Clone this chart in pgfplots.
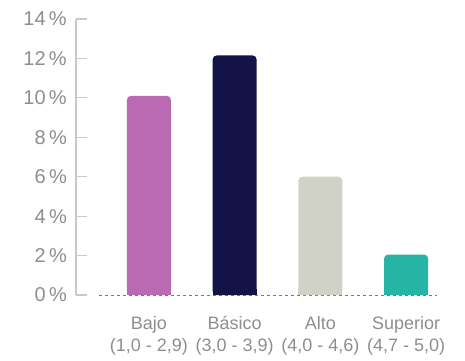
\documentclass[border=0pt]{standalone}
\usepackage{fontspec}
\setmainfont{Liberation Sans}
\usepackage{pgfplots}
\pgfplotsset{compat=1.18}
\definecolor{cBajo}{HTML}{B96AB2}
\definecolor{cBasico}{HTML}{131347}
\definecolor{cAlto}{HTML}{D0D2C8}
\definecolor{cSup}{HTML}{26B5A5}
\definecolor{axgray}{HTML}{C8C8C8}
\definecolor{txtgray}{HTML}{8E8E8E}
\definecolor{dashgray}{HTML}{7A7A7A}
\begin{document}
\begin{tikzpicture}
\begin{axis}[
  name=ax, scale only axis, width=361bp, height=276bp,
  xmin=-0.85, xmax=3.36, ymin=0, ymax=14,
  axis x line*=bottom, x axis line style={draw=none}, xtick style={draw=none},
  axis y line*=left, y axis line style={draw=axgray, line width=1.2bp},
  ytick={0,2,...,14}, ytick style={draw=axgray, line width=1.2bp},
  major tick length=11bp, tick align=inside,
  /pgf/number format/assume math mode=true,
  yticklabel={\pgfmathprintnumber{\tick}\,\%},
  yticklabel style={font=\fontsize{20bp}{24bp}\selectfont, text=txtgray, inner sep=0pt, xshift=-9bp},
  xtick={0,1,2,3},
  xticklabels={{\strut Bajo\\\strut(1,0 - 2,9)},{\strut Básico\\\strut(3,0 - 3,9)},{\strut Alto\\\strut(4,0 - 4,6)},{\strut Superior\\\strut(4,7 - 5,0)}},
  xticklabel style={font=\fontsize{18bp}{22bp}\selectfont, text=txtgray, align=center, inner sep=0pt, yshift=-19bp},
  clip=false,
]
\addplot[sharp plot, draw=dashgray, dash pattern=on 3bp off 3bp, line width=0.8bp] coordinates {(-0.58,0) (3.36,0)};
\addplot[ybar, bar width=44bp, bar shift=0pt, fill=cBajo, draw=none, rounded corners=4bp] coordinates {(0,10.1)};
\addplot[ybar, bar width=44bp, bar shift=0pt, fill=cBasico, draw=none, rounded corners=4bp] coordinates {(1,12.15)};
\addplot[ybar, bar width=44bp, bar shift=0pt, fill=cAlto, draw=none, rounded corners=4bp] coordinates {(2,6.0)};
\addplot[ybar, bar width=44bp, bar shift=0pt, fill=cSup, draw=none, rounded corners=4bp] coordinates {(3,2.05)};
% square bottom corners
\addplot[ybar, bar width=44bp, bar shift=0pt, fill=cBajo, draw=none] coordinates {(0,0.3)};
\addplot[ybar, bar width=44bp, bar shift=0pt, fill=cBasico, draw=none] coordinates {(1,0.3)};
\addplot[ybar, bar width=44bp, bar shift=0pt, fill=cAlto, draw=none] coordinates {(2,0.3)};
\addplot[ybar, bar width=44bp, bar shift=0pt, fill=cSup, draw=none] coordinates {(3,0.3)};
\end{axis}
\path (ax.south west) ++(-76bp,-66bp) rectangle ++(465bp,361bp);
\end{tikzpicture}
\end{document}
